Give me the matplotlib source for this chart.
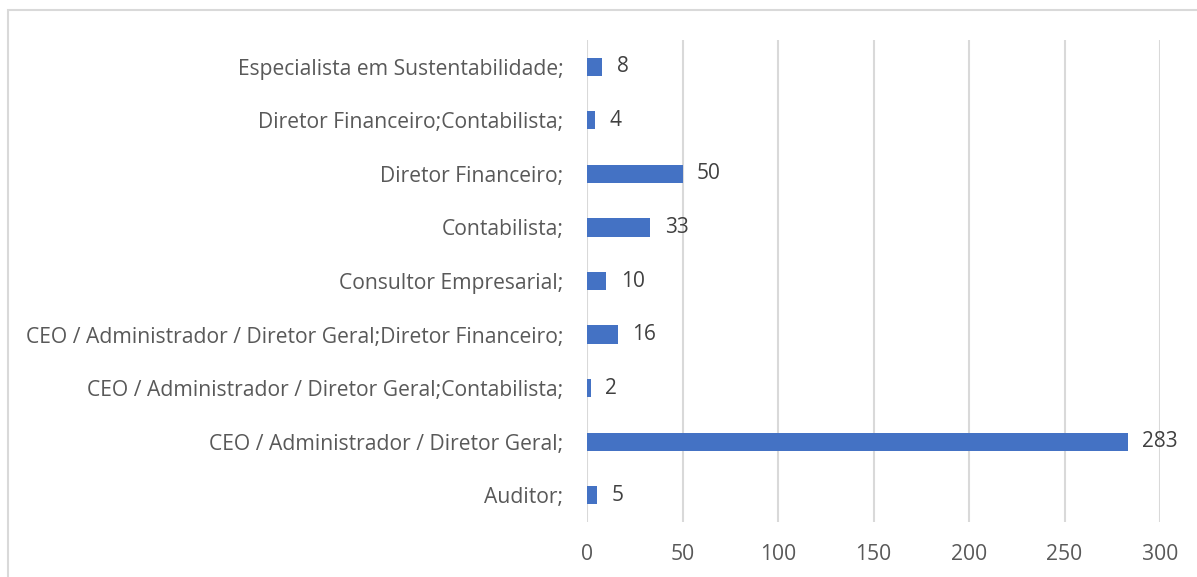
import matplotlib
matplotlib.use("Agg")
import matplotlib.pyplot as plt
from matplotlib.patches import Rectangle

categories = [
    "Auditor;",
    "CEO / Administrador / Diretor Geral;",
    "CEO / Administrador / Diretor Geral;Contabilista;",
    "CEO / Administrador / Diretor Geral;Diretor Financeiro;",
    "Consultor Empresarial;",
    "Contabilista;",
    "Diretor Financeiro;",
    "Diretor Financeiro;Contabilista;",
    "Especialista em Sustentabilidade;",
]
values = [5, 283, 2, 16, 10, 33, 50, 4, 8]
xticks = [0, 50, 100, 150, 200, 250, 300]

W, H = 1197, 577
fig = plt.figure(figsize=(W / 100, H / 100), dpi=100)
plt.rcParams['font.family'] = ['Open Sans', 'DejaVu Sans']

# chart border
fig.patches.append(Rectangle((8 / W, -0.05), 1.2, 1 - 10 / H + 0.05,
                             transform=fig.transFigure, fill=False,
                             edgecolor='#D9D9D9', linewidth=1.5))

ax = fig.add_axes([587 / W, 1 - 522 / H, (1160 - 587) / W, (522 - 40) / H])
y = list(range(len(categories)))
ax.barh(y, values, height=0.34, color='#4472C4', zorder=3)
for yi, v in zip(y, values):
    ax.annotate(str(v), (v, yi), xytext=(10.5, 0), textcoords='offset points',
                va='center', ha='left', fontsize=15, color='#404040')

ax.set_xlim(0, 300)
ax.set_ylim(-0.5, len(categories) - 0.5)
ax.set_xticks(xticks)
ax.set_xticklabels([str(t) for t in xticks])
ax.set_yticks(y)
ax.set_yticklabels(categories)
ax.tick_params(axis='both', length=0, labelsize=15.2, labelcolor='#595959')
ax.tick_params(axis='x', pad=16)
ax.tick_params(axis='y', pad=17)
ax.grid(axis='x', color='#D9D9D9', linewidth=1.5, zorder=0)
for s in ax.spines.values():
    s.set_visible(False)

fig.savefig('out.png', dpi=100)
